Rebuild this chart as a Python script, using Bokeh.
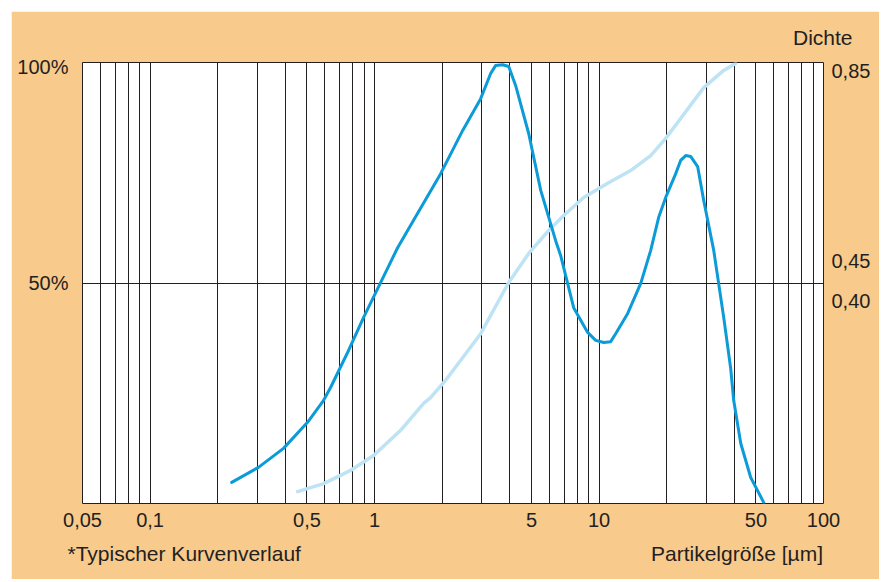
from bokeh.plotting import figure
from bokeh.models import (Range1d, FixedTicker, LinearAxis, Title,
                          CustomJSTickFormatter)
from bokeh.embed import file_html
from bokeh.resources import INLINE

# ---- data -------------------------------------------------------------
# particle size distribution (dark curve), x in µm, y in %
dist_size = [0.231, 0.304, 0.393, 0.503, 0.593, 0.637, 0.766, 0.894, 1.064,
             1.267, 1.556, 1.97, 2.47, 2.97, 3.29, 3.46, 3.72, 3.96, 4.25,
             4.86, 5.50, 6.41, 6.75, 7.71, 8.90, 9.66, 10.49, 11.27, 11.86,
             13.42, 15.34, 16.99, 18.44, 19.82, 21.96, 23.1, 24.34, 25.6,
             27.5, 29.27, 32.43, 35.93, 38.6, 39.8, 42.8, 47.4, 54.2]
dist_pct = [4.8, 8.2, 12.5, 18.4, 23.4, 26.3, 34.7, 42.2, 50.1,
            58.0, 65.8, 74.8, 84.6, 91.8, 97.5, 99.3, 99.5, 99.1, 94.8,
            83.9, 71.0, 59.6, 56.2, 44.4, 38.8, 37.0, 36.5, 36.7, 38.5,
            43.1, 49.9, 57.4, 64.9, 69.4, 74.8, 77.8, 78.9, 78.7,
            76.4, 68.7, 57.4, 42.2, 30.6, 23.4, 13.6, 5.9, 0.2]

# density curve (light curve), x in µm, y in % of chart height
dens_size = [0.454, 0.593, 0.782, 0.99, 1.307, 1.654, 1.777, 2.07, 2.97,
             3.96, 4.86, 5.97, 6.96, 8.55, 10.93, 13.83, 16.99, 19.82, 23.1,
             29.27, 35.93, 40.6]
dens_pct = [2.7, 4.5, 7.5, 10.9, 16.6, 22.7, 24.0, 27.9, 38.5,
            50.1, 56.7, 61.9, 65.3, 69.4, 72.6, 75.5, 78.9, 82.8, 87.3,
            94.3, 98.2, 99.8]

x_tick_values = [0.05, 0.1, 0.5, 1, 5, 10, 50, 100]
pct_tick_pos = [50, 99]
pct_tick_labels = ["50%", "100%"]
dichte_tick_pos = [98, 55, 46]
dichte_tick_labels = ["0,85", "0,45", "0,40"]

note_text = "*Typischer Kurvenverlauf"
xaxis_text = "Partikelgröße [µm]"
dichte_text = "Dichte"

# grid lines at every 1..9 multiple of each decade
grid_ticks = [0.05, 0.06, 0.07, 0.08, 0.09]
for dec in [0.1, 1, 10]:
    grid_ticks += [m * dec for m in range(1, 10)]
grid_ticks.append(100)

BG = "#F8CA8C"
INK = "#231F20"
DARK = "#0A9BD8"
LIGHT = "#BDE3F5"
FONT = "Liberation Sans"
FS = "20px"
FS_TXT = "21px"

p = figure(width=868, height=568, x_axis_type="log",
           x_range=Range1d(0.05, 100), y_range=Range1d(0, 100),
           output_backend="svg", toolbar_location=None,
           min_border_left=71, min_border_right=56,
           min_border_top=51, min_border_bottom=76)
p.styles = {"margin-left": "11px", "margin-top": "11px"}
p.border_fill_color = BG
p.background_fill_color = "white"
p.outline_line_color = INK
p.outline_line_width = 1

# grids
p.xgrid.ticker = FixedTicker(ticks=grid_ticks)
p.xgrid.grid_line_color = INK
p.xgrid.grid_line_alpha = 1
p.ygrid.ticker = FixedTicker(ticks=[50])
p.ygrid.grid_line_color = INK
p.ygrid.grid_line_alpha = 1

def style_axis(ax, standoff):
    ax.major_tick_line_color = None
    ax.minor_tick_line_color = None
    ax.axis_line_color = None
    ax.major_label_standoff = standoff
    ax.major_label_text_font = FONT
    ax.major_label_text_font_size = FS
    ax.major_label_text_color = INK

# x axis
xa = p.xaxis[0]
xa.ticker = FixedTicker(ticks=x_tick_values)
xa.formatter = CustomJSTickFormatter(code="return tick.toString().replace('.', ',');")
style_axis(xa, 3)

# left axis
ya = p.yaxis[0]
ya.ticker = FixedTicker(ticks=pct_tick_pos)
ya.major_label_overrides = dict(zip(pct_tick_pos, pct_tick_labels))
style_axis(ya, 8)

# right (density) axis
ra = LinearAxis(ticker=FixedTicker(ticks=dichte_tick_pos),
                major_label_overrides=dict(zip(dichte_tick_pos, dichte_tick_labels)))
style_axis(ra, 2)
p.add_layout(ra, "right")

# curves
p.line(dens_size, dens_pct, line_color=LIGHT, line_width=3.5, line_cap="round", line_join="round")
p.line(dist_size, dist_pct, line_color=DARK, line_width=3, line_cap="round", line_join="round")

# texts
tstyle = dict(text_font=FONT, text_font_size=FS_TXT, text_color=INK, text_font_style="normal")
p.add_layout(Title(text=dichte_text, align="right", offset=-29, standoff=24,
                   vertical_align="top", **tstyle), "above")
bottom_line = note_text + "\u00a0" * 60 + xaxis_text
p.add_layout(Title(text=bottom_line, align="left", offset=-15,
                   standoff=24, vertical_align="top", **tstyle), "below")

open("out.html", "w").write(file_html(p, INLINE))
